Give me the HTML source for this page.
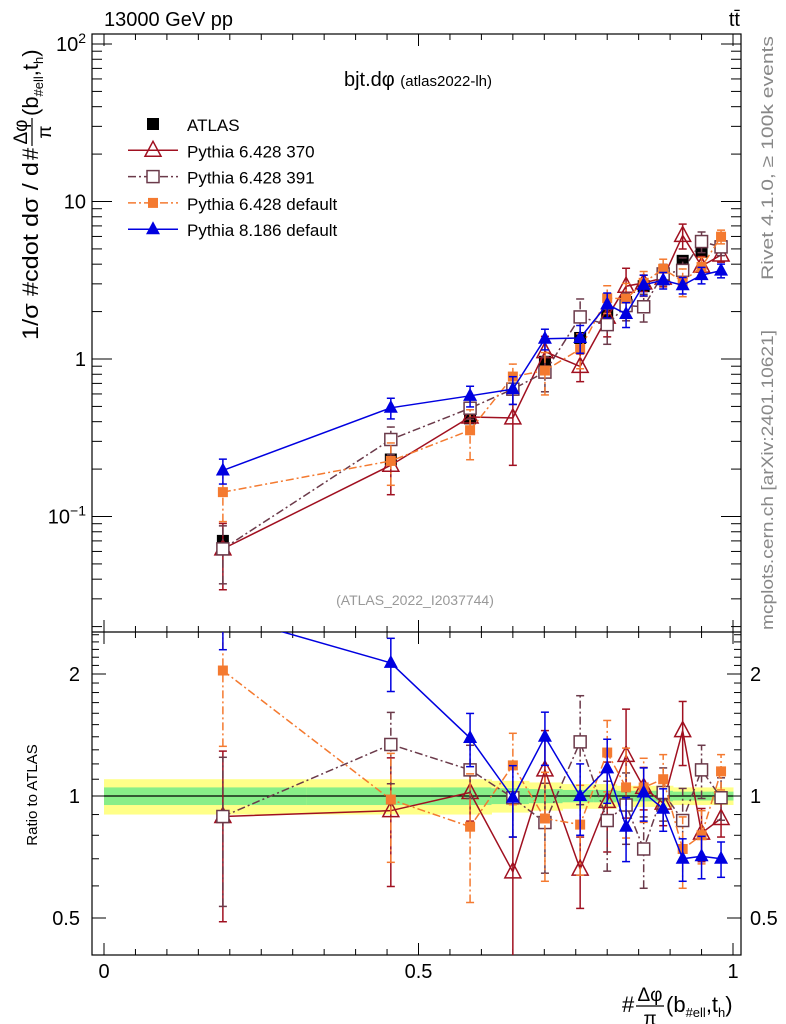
<!DOCTYPE html>
<html><head><meta charset="utf-8"><style>
body{margin:0;background:#fff;}
svg{display:block;font-family:"Liberation Sans",sans-serif;}
</style></head><body>
<svg id="c" width="786" height="1024" viewBox="0 0 786 1024" xmlns="http://www.w3.org/2000/svg"></svg>
<script>
const xs=[0.189,0.456,0.582,0.65,0.701,0.757,0.8,0.83,0.858,0.889,0.92,0.95,0.981];
const atlas=[0.07,0.23,0.42,0.65,0.96,1.36,1.9,2.3,2.9,3.4,4.2,4.8,5.2];
const r370=[0.89,0.92,1.02,0.65,1.16,0.66,0.97,1.26,1.05,0.96,1.45,0.81,0.88];
const r391=[0.89,1.34,1.16,0.99,0.86,1.36,0.87,0.95,0.74,1.02,0.87,1.16,0.99];
const rP6=[2.04,0.98,0.84,1.19,0.88,0.85,1.28,1.05,1.05,1.1,0.74,0.8,1.15];
const rP8=[2.8,2.13,1.39,0.99,1.4,1.0,1.17,0.84,1.02,0.93,0.70,0.71,0.70];
const e370=[0.45,0.35,0.15,0.5,0.25,0.2,0.25,0.3,0.12,0.12,0.18,0.15,0.1];
const e391=[0.4,0.2,0.15,0.2,0.25,0.3,0.25,0.2,0.2,0.15,0.2,0.15,0.12];
const eP6=[0.35,0.3,0.35,0.2,0.3,0.25,0.2,0.25,0.18,0.15,0.2,0.15,0.1];
const eP8=[0.18,0.15,0.15,0.2,0.15,0.2,0.18,0.18,0.15,0.12,0.12,0.12,0.1];
const bandY=[0.10,0.10,0.10,0.09,0.08,0.07,0.07,0.06,0.06,0.06,0.05,0.05,0.05];

const svg=document.getElementById('c');const NS='http://www.w3.org/2000/svg';
function el(t,a,p){const e=document.createElementNS(NS,t);for(const k in a)e.setAttribute(k,a[k]);(p||svg).appendChild(e);return e;}
const L=92,R=741,T=34,M=632,B=955;
const X=v=>104+629*v;
const Y=v=>359-157.5*Math.log10(v);
const YR=v=>796-122*Math.log2(v);

const defs=el('defs',{});
const c1=el('clipPath',{id:'cm'},defs);el('rect',{x:L,y:T,width:R-L,height:M-T},c1);
const c2=el('clipPath',{id:'cr'},defs);el('rect',{x:L,y:M,width:R-L,height:B-M},c2);

const gB=el('g',{'clip-path':'url(#cr)'});

const edges=[0];for(let i=0;i<xs.length-1;i++)edges.push((xs[i]+xs[i+1])/2);edges.push(1);
for(let i=0;i<xs.length;i++){
 const x0=X(edges[i]),x1=X(edges[i+1]);
 el('rect',{x:x0,y:YR(1+bandY[i]),width:x1-x0+0.5,height:YR(1-bandY[i])-YR(1+bandY[i]),fill:'#ffff88'},gB);
 el('rect',{x:x0,y:YR(1+bandY[i]/2),width:x1-x0+0.5,height:YR(1-bandY[i]/2)-YR(1+bandY[i]/2),fill:'#88ee88'},gB);
}
el('line',{x1:X(0),x2:X(1),y1:YR(1),y2:YR(1),stroke:'#000','stroke-width':1.2});

const fr=el('rect',{x:L,y:T,width:R-L,height:B-T,fill:'none',stroke:'#000','stroke-width':1.2});

el('line',{x1:L,x2:R,y1:M,y2:M,stroke:'#000','stroke-width':1.2});

for(let v=0;v<=1.0001;v+=0.05){
 const big=Math.abs(v*10-Math.round(v*10))<1e-6 && Math.round(v*10)%5==0;
 const len=big?12:6;const x=X(v);
 for(const [yb,dir] of [[B,-1],[T,1],[M,-1],[M,1]]) el('line',{x1:x,x2:x,y1:yb,y2:yb+dir*len,stroke:'#000'});
}
[[0,'0'],[0.5,'0.5'],[1,'1']].forEach(([v,s])=>{const t=el('text',{x:X(v),y:978,'font-size':20,'text-anchor':'middle'});t.textContent=s;});

for(let d=-2;d<=2;d++){for(let m=1;m<=9;m++){const v=m*Math.pow(10,d);const y=Y(v);if(y<T||y>M)continue;
 const len=m==1?20:10;el('line',{x1:L,x2:L+len,y1:y,y2:y,stroke:'#000'});el('line',{x1:R,x2:R-len,y1:y,y2:y,stroke:'#000'});}}
function ylab(y,html){const t=el('text',{x:86,y:y+7,'font-size':20,'text-anchor':'end'});t.innerHTML=html;}
ylab(Y(100),'10<tspan dy="-8" font-size="14">2</tspan>');ylab(Y(10),'10');ylab(Y(1),'1');ylab(Y(0.1),'10<tspan dy="-8" font-size="14">−1</tspan>');
for(let v=0.4;v<=2.6;v+=0.1){const y=YR(v);if(y<M||y>B)continue;const big=[0.5,1,2].some(q=>Math.abs(q-v)<1e-6);const len=big?14:7;
 el('line',{x1:L,x2:L+len,y1:y,y2:y,stroke:'#000'});el('line',{x1:R,x2:R-len,y1:y,y2:y,stroke:'#000'});}
[[2,'2'],[1,'1'],[0.5,'0.5']].forEach(([v,s])=>{for(const [x,a] of [[80,'end'],[750,'start']]){const t=el('text',{x:x,y:YR(v)+7,'font-size':20,'text-anchor':a});t.textContent=s;}});

const series=[
 {n:'pythia6-370',r:r370,e:e370,c:'#a01020',dash:'',m:'tri-open'},
 {n:'pythia6-391',r:r391,e:e391,c:'#6b3a4a',dash:'8,3,2,3',m:'sq-open'},
 {n:'pythia6-default',r:rP6,e:eP6,c:'#f47a30',dash:'8,3,2,3',m:'sq-fill'},
 {n:'pythia8-default',r:rP8,e:eP8,c:'#0000e0',dash:'',m:'tri-fill'}];
function marker(g,m,x,y,c){
 if(m=='tri-open')el('path',{d:`M${x},${y-9}L${x+8},${y+6}L${x-8},${y+6}Z`,fill:'none',stroke:c,'stroke-width':1.5},g);
 else if(m=='tri-fill')el('path',{d:`M${x},${y-8}L${x+7},${y+5}L${x-7},${y+5}Z`,fill:c},g);
 else if(m=='sq-open')el('rect',{x:x-6,y:y-6,width:12,height:12,fill:'#fff',stroke:c,'stroke-width':1.5},g);
 else if(m=='sq-fill')el('rect',{x:x-5,y:y-5,width:10,height:10,fill:c},g);
 else el('rect',{x:x-6,y:y-6,width:12,height:12,fill:c},g);
}
function drawSeries(s,panel){
 const g=el('g',{'clip-path':panel=='main'?'url(#cm)':'url(#cr)'});
 
 const ys=s.r.map((r,i)=>panel=='main'?Y(r*atlas[i]):YR(r));
 const yl=s.r.map((r,i)=>panel=='main'?Y(r*atlas[i]*(1-s.e[i])):YR(r*(1-s.e[i])));
 const yh=s.r.map((r,i)=>panel=='main'?Y(r*atlas[i]*(1+s.e[i])):YR(r*(1+s.e[i])));
 el('polyline',{points:xs.map((x,i)=>X(x)+','+ys[i]).join(' '),fill:'none',stroke:s.c,'stroke-width':1.5,'stroke-dasharray':s.dash},g);
 xs.forEach((x,i)=>{const px=X(x);
  el('line',{x1:px,x2:px,y1:yl[i],y2:yh[i],stroke:s.c,'stroke-width':1.5,'stroke-dasharray':s.dash},g);
  el('line',{x1:px-4,x2:px+4,y1:yl[i],y2:yl[i],stroke:s.c,'stroke-width':1.5},g);
  el('line',{x1:px-4,x2:px+4,y1:yh[i],y2:yh[i],stroke:s.c,'stroke-width':1.5},g);
  marker(g,s.m,px,ys[i],s.c);});
}
const gA=el('g',{'clip-path':'url(#cm)'});

xs.forEach((x,i)=>marker(gA,'data',X(x),Y(atlas[i]),'#000'));
series.forEach(s=>{drawSeries(s,'main');drawSeries(s,'ratio');});

const leg=[['ATLAS','data','#000',''],['Pythia 6.428 370','tri-open','#a01020',''],['Pythia 6.428 391','sq-open','#6b3a4a','8,3,2,3'],['Pythia 6.428 default','sq-fill','#f47a30','8,3,2,3'],['Pythia 8.186 default','tri-fill','#0000e0','']];
leg.forEach((l,i)=>{const y=124+i*26.3;const g=el('g',{});
 
 if(i>0)el('line',{x1:128,x2:178,y1:y,y2:y,stroke:l[2],'stroke-width':1.5,'stroke-dasharray':l[3]},g);
 marker(g,l[1],153,y,l[2]);
 const t=el('text',{x:187,y:y+7,'font-size':17},g);t.textContent=l[0];});

function txt(x,y,s,fs,attrs,name,parent){const t=el('text',Object.assign({x:x,y:y,'font-size':fs},attrs||{}),parent);t.innerHTML=s;return t;}
txt(104,26,'13000 GeV pp',20,{},'energy-label');
txt(740,26,'tt̄',20,{'text-anchor':'end'},'process-label');
txt(418,86,'bjt.dφ <tspan font-size="15">(atlas2022-lh)</tspan>',20,{'text-anchor':'middle'},'plot-title');
txt(415,605,'(ATLAS_2022_I2037744)',14,{'text-anchor':'middle',fill:'#999'},'analysis-id');
txt(0,0,'Rivet 4.1.0, ≥ 100k events',17,{fill:'#888','text-anchor':'end',textLength:244,lengthAdjust:'spacingAndGlyphs',transform:'translate(773,36) rotate(-90)'},'rivet-label');
txt(0,0,'mcplots.cern.ch [arXiv:2401.10621]',17,{fill:'#888','text-anchor':'end',textLength:300,lengthAdjust:'spacingAndGlyphs',transform:'translate(773,330) rotate(-90)'},'mcplots-label');
txt(0,0,'Ratio to ATLAS',15,{'text-anchor':'middle',transform:'translate(37,795) rotate(-90)'},'ratio-y-title');

function fracTitle(g,prefix,prefLen,fs){
 let x=0;
 if(prefix){txt(0,0,prefix,fs,{textLength:prefLen,lengthAdjust:'spacingAndGlyphs'},'title-text',g);x=prefLen+2;}
 txt(x,0,'#',fs,{},'title-hash',g);x+=14;
 txt(x+14,-11,'Δφ',19,{'text-anchor':'middle'},'title-frac-num',g);
 el('line',{x1:x,x2:x+28,y1:-6,y2:-6,stroke:'#000','stroke-width':1.2},g);
 txt(x+14,13,'π',19,{'text-anchor':'middle'},'title-frac-den',g);
 x+=30;
 txt(x,0,'(b<tspan font-size="13" dy="5">#ell</tspan><tspan dy="-5">,t</tspan><tspan font-size="13" dy="5">h</tspan><tspan dy="-5">)</tspan>',fs,{},'title-tail',g);
}
const gy=el('g',{transform:'translate(38,340) rotate(-90)'});

fracTitle(gy,'1/σ #cdot dσ / d',178,22);
const gx=el('g',{transform:'translate(622,1012)'});

fracTitle(gx,'',0,22);
</script>
</body></html>
